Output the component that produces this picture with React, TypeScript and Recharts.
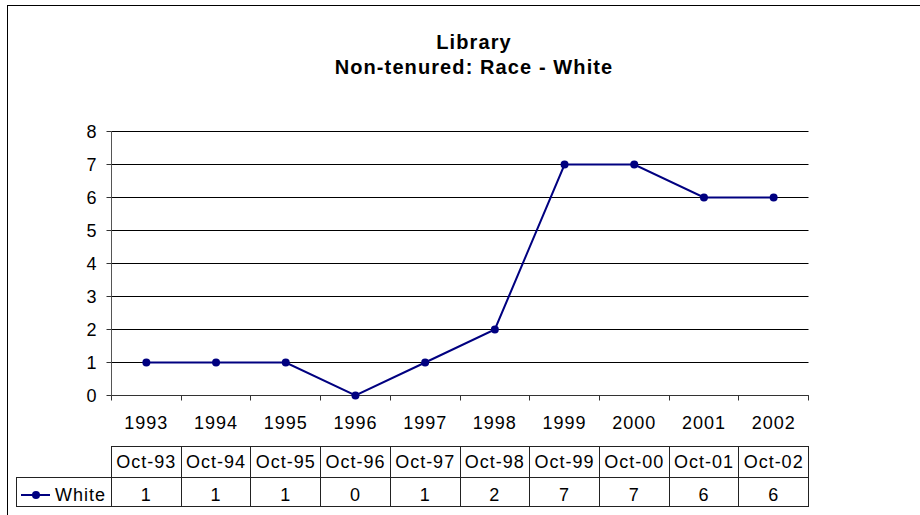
import React from "react";
import { LineChart, Line, XAxis, YAxis, CartesianGrid } from "recharts";

const years = ["1993", "1994", "1995", "1996", "1997", "1998", "1999", "2000", "2001", "2002"];
const tableLabels = ["Oct-93", "Oct-94", "Oct-95", "Oct-96", "Oct-97", "Oct-98", "Oct-99", "Oct-00", "Oct-01", "Oct-02"];
const whiteValues = [1, 1, 1, 0, 1, 2, 7, 7, 6, 6];
const yTicks = [0, 1, 2, 3, 4, 5, 6, 7, 8];
const seriesName = "White";
const titleLines = ["Library", "Non-tenured: Race - White"];

const data = years.map((y, i) => ({ year: y, label: tableLabels[i], White: whiteValues[i] }));

const W = 920;
const H = 515;
const PLOT_LEFT = 111.5;
const PLOT_RIGHT = 808.5;
const PLOT_TOP = 131.5;
const PLOT_BOTTOM = 395.5;
const X_AXIS_H = 51;
const CHART_H = PLOT_BOTTOM + X_AXIS_H;
const BAND = (PLOT_RIGHT - PLOT_LEFT) / years.length;
const FONT = "Arial, 'Liberation Sans', Helvetica, sans-serif";
const NAVY = "#000080";
const FS = 18;
const LS = 1;

const TABLE_TOP = 446;
const ROW_MID = 477;
const TABLE_BOTTOM = 506;
const LEG_LEFT = 16;
const LINE_C = "#222";

export default function App() {
  const bounds = Array.from({ length: years.length + 1 }, (_, i) => Math.round(PLOT_LEFT - 0.5 + i * BAND) + 0.5);
  return (
    <div style={{ position: "absolute", left: 0, top: 0, width: W, height: H, overflow: "hidden", background: "#fff", fontFamily: FONT }}>
      <svg width={W} height={H} style={{ position: "absolute", left: 0, top: 0 }}>
        <rect x={7.5} y={5.5} width={1200} height={1200} fill="none" stroke="#000" strokeWidth={1} />
        {titleLines.map((t, i) => (
          <text key={t} x={474} y={49 + i * 25} textAnchor="middle" fontFamily={FONT} fontWeight="bold" fontSize={20} letterSpacing={1.1} fill="#000">
            {t}
          </text>
        ))}
      </svg>
      <div style={{ position: "absolute", left: 0, top: 0 }}>
        <LineChart width={W} height={CHART_H} data={data} margin={{ top: PLOT_TOP, right: W - PLOT_RIGHT, left: 0.5, bottom: 0 }}>
          <CartesianGrid vertical={false} stroke="#000" strokeWidth={1} />
          <XAxis
            dataKey="year"
            height={X_AXIS_H}
            padding={{ left: BAND / 2, right: BAND / 2 }}
            tickLine={false}
            axisLine={{ stroke: "#333" }}
            tickSize={5}
            tickMargin={16}
            tick={{ fontSize: FS, fill: "#000", fontFamily: FONT, letterSpacing: LS }}
            interval={0}
          />
          <YAxis
            width={111}
            domain={[0, 8]}
            ticks={yTicks}
            interval={0}
            tickSize={5}
            tickMargin={9}
            axisLine={{ stroke: "#555" }}
            tickLine={{ stroke: "#333" }}
            tick={{ fontSize: FS, fill: "#000", fontFamily: FONT, letterSpacing: LS }}
          />
          <Line
            type="linear"
            dataKey="White"
            stroke={NAVY}
            strokeWidth={2}
            dot={{ r: 4, fill: NAVY, stroke: NAVY, strokeWidth: 0 }}
            isAnimationActive={false}
          />
        </LineChart>
      </div>
      <svg width={W} height={H} style={{ position: "absolute", left: 0, top: 0, pointerEvents: "none" }}>
        {bounds.map((x, i) => (
          <line key={"t" + i} x1={x} x2={x} y1={PLOT_BOTTOM} y2={PLOT_BOTTOM + 5} stroke="#333" />
        ))}
        <line x1={PLOT_LEFT} x2={PLOT_RIGHT} y1={TABLE_TOP + 0.5} y2={TABLE_TOP + 0.5} stroke={LINE_C} />
        <line x1={LEG_LEFT} x2={PLOT_RIGHT} y1={ROW_MID + 0.5} y2={ROW_MID + 0.5} stroke={LINE_C} />
        <line x1={LEG_LEFT} x2={PLOT_RIGHT} y1={TABLE_BOTTOM + 0.5} y2={TABLE_BOTTOM + 0.5} stroke={LINE_C} />
        <line x1={LEG_LEFT + 0.5} x2={LEG_LEFT + 0.5} y1={ROW_MID} y2={TABLE_BOTTOM + 1} stroke={LINE_C} />
        {bounds.map((x, i) => (
          <line key={"v" + i} x1={x} x2={x} y1={TABLE_TOP} y2={TABLE_BOTTOM + 1} stroke={LINE_C} />
        ))}
        {tableLabels.map((t, i) => (
          <text key={"h" + t} x={PLOT_LEFT + (i + 0.5) * BAND} y={468} textAnchor="middle" fontFamily={FONT} fontSize={FS} letterSpacing={LS} fill="#000">
            {t}
          </text>
        ))}
        {whiteValues.map((v, i) => (
          <text key={"b" + i} x={PLOT_LEFT + (i + 0.5) * BAND} y={501} textAnchor="middle" fontFamily={FONT} fontSize={FS} letterSpacing={LS} fill="#000">
            {v}
          </text>
        ))}
        <line x1={21} x2={50} y1={495} y2={495} stroke={NAVY} strokeWidth={2} />
        <circle cx={36} cy={495} r={4} fill={NAVY} />
        <text x={55} y={501} fontFamily={FONT} fontSize={FS} letterSpacing={LS} fill="#000">
          {seriesName}
        </text>
      </svg>
    </div>
  );
}
